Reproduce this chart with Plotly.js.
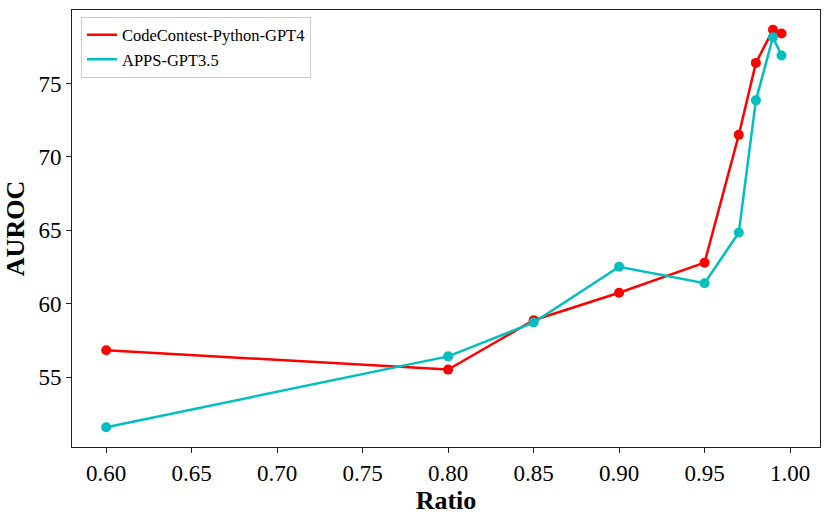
<!DOCTYPE html>
<html>
<head>
<meta charset="utf-8">
<script src="https://cdn.plot.ly/plotly-3.0.1.min.js"></script>
<style>
  html, body { margin: 0; padding: 0; background: #fff; }
  #chart { width: 830px; height: 517px; }
</style>
</head>
<body>
<div id="chart"></div>
<script>
// ── Dados ─────────────────────────────────────────────
const ratios = [0.6, 0.8, 0.85, 0.9, 0.95, 0.97, 0.98, 0.99, 0.995];
const codeContestGpt4 = [56.84, 55.52, 58.88, 60.75, 62.8, 71.5, 76.4, 78.65, 78.4];
const appsGpt35 = [51.6, 56.42, 58.72, 62.52, 61.4, 64.85, 73.85, 78.15, 76.9];
const xTicks = [0.6, 0.65, 0.7, 0.75, 0.8, 0.85, 0.9, 0.95, 1.0];
const yTicks = [55, 60, 65, 70, 75];

const FONT = "'Liberation Serif', 'Times New Roman', serif";

// linha + marcadores; a legenda mostra só a linha (como no matplotlib)
function buildTraces(y, name, color) {
  return [
    {
      x: ratios, y,
      name,
      type: 'scatter',
      mode: 'lines',
      line: { color, width: 2.5 },
      legendgroup: name,
    },
    {
      x: ratios, y,
      name,
      type: 'scatter',
      mode: 'markers',
      marker: { color, size: 10 },
      legendgroup: name,
      showlegend: false,
    },
  ];
}

const axisBase = {
  showgrid: false,
  zeroline: false,
  showline: true,
  mirror: true,
  linecolor: '#222',
  linewidth: 1,
  ticks: 'outside',
  ticklen: 5,
  tickcolor: '#222',
  tickfont: { family: FONT, size: 23, color: '#000' },
};

const layout = {
  width: 830, height: 517,
  paper_bgcolor: '#fff',
  plot_bgcolor: '#fff',
  margin: { t: 10, b: 70, l: 72, r: 10 },
  showlegend: true,
  legend: {
    x: 0.012, y: 0.985, xanchor: 'left', yanchor: 'top',
    bgcolor: '#fff', bordercolor: '#ccc', borderwidth: 1,
    font: { family: FONT, size: 16.5, color: '#000' },
    tracegroupgap: 0,
  },
  xaxis: {
    ...axisBase,
    range: [0.58, 1.0175],
    tickvals: xTicks,
    ticktext: xTicks.map((v) => v.toFixed(2)),
    title: { text: '<b>Ratio</b>', font: { family: FONT, size: 26, color: '#000' }, standoff: 0 },
  },
  yaxis: {
    ...axisBase,
    range: [50.25, 80.0],
    tickvals: yTicks,
    title: { text: '<b>AUROC</b>', font: { family: FONT, size: 26, color: '#000' }, standoff: 6 },
  },
};

Plotly.newPlot('chart', [
  ...buildTraces(codeContestGpt4, 'CodeContest-Python-GPT4', '#ff0000'),
  ...buildTraces(appsGpt35, 'APPS-GPT3.5', '#00bfbf'),
], layout, { displayModeBar: false, staticPlot: true });
</script>
</body>
</html>
